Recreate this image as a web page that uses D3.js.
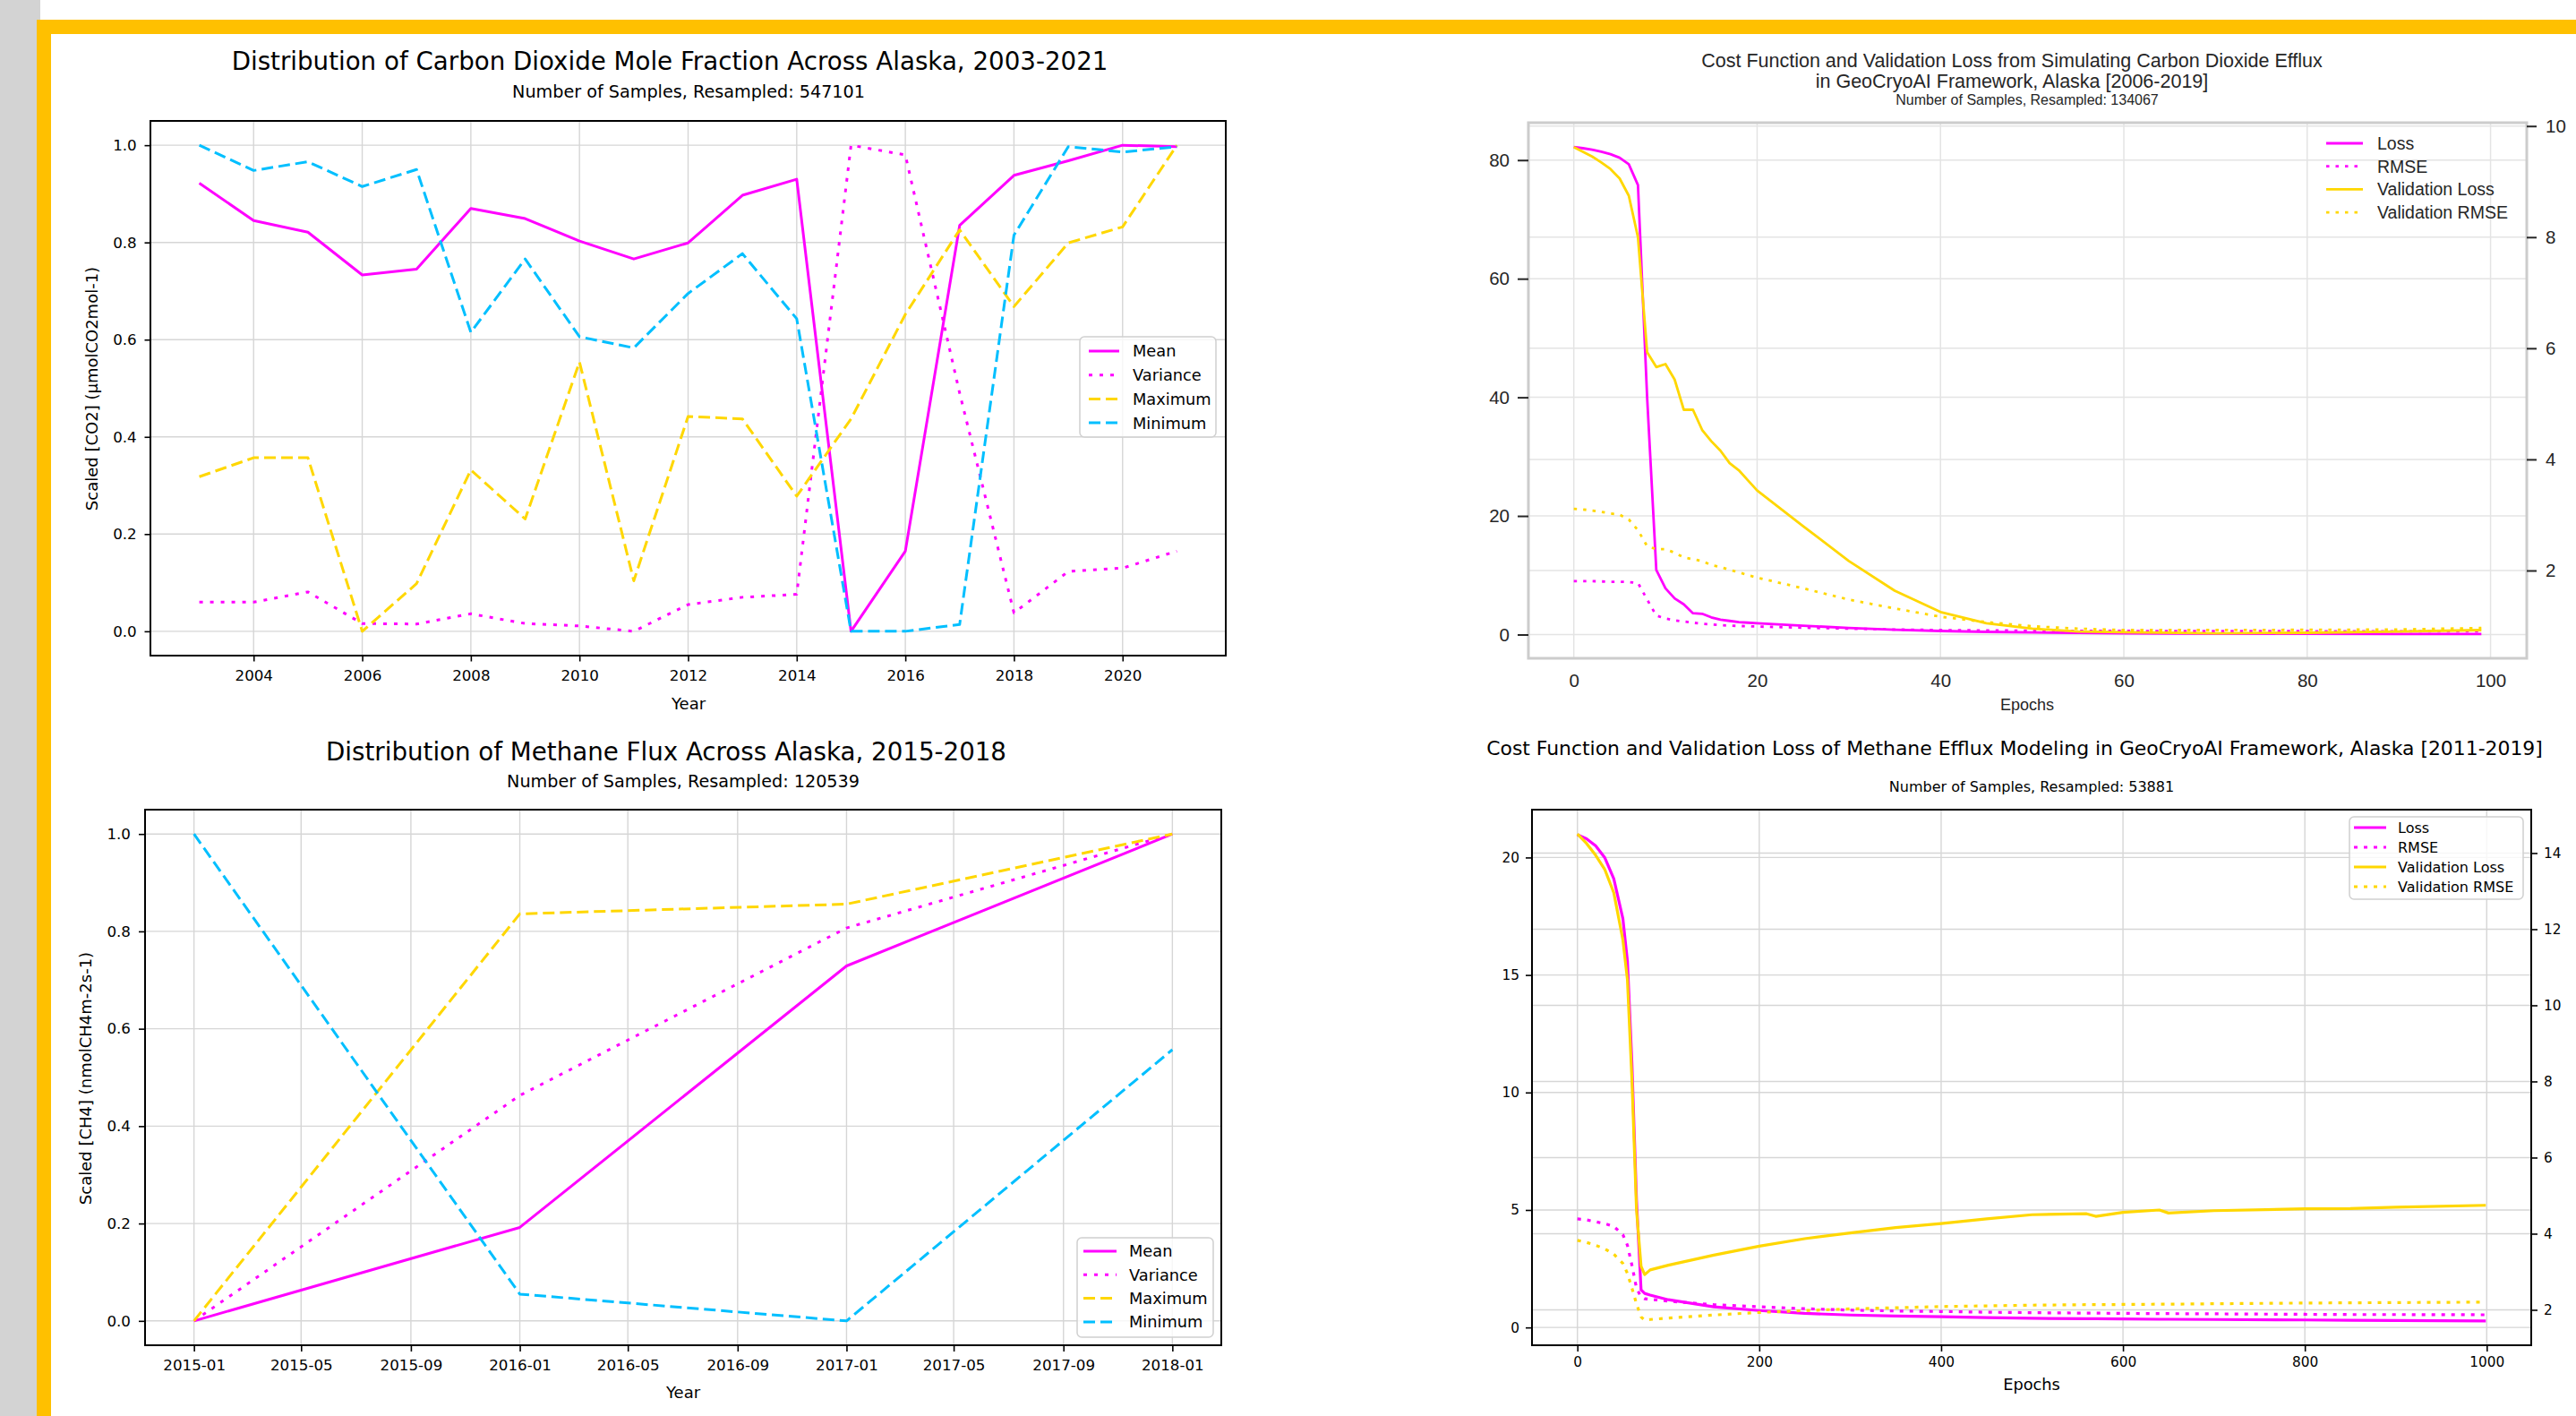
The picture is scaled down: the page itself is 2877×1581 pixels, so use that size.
<!DOCTYPE html>
<html>
<head>
<meta charset="utf-8">
<title>GeoCryoAI CO2 / CH4 summary</title>
<script src="https://cdn.jsdelivr.net/npm/d3@7/dist/d3.min.js"></script>
<style>
  body { margin: 0; background: #fff; }
  svg { display: block; }
</style>
</head>
<body>
<svg id="figure" width="2877" height="1581"></svg>
<script>
/**
 * DATA
 **/
// CO2 mole fraction distribution, scaled 0..1
const co2Years    = [2003, 2004, 2005, 2006, 2007, 2008, 2009, 2010, 2011, 2012, 2013, 2014, 2015, 2016, 2017, 2018, 2019, 2020, 2021];
const co2Mean     = [0.922, 0.845, 0.821, 0.733, 0.745, 0.870, 0.849, 0.803, 0.766, 0.799, 0.897, 0.930, 0.000, 0.165, 0.835, 0.938, 0.968, 1.000, 0.997];
const co2Variance = [0.060, 0.060, 0.081, 0.016, 0.015, 0.036, 0.016, 0.011, 0.000, 0.055, 0.070, 0.076, 1.000, 0.980, 0.490, 0.038, 0.123, 0.130, 0.165];
const co2Maximum  = [0.318, 0.357, 0.357, 0.000, 0.098, 0.332, 0.231, 0.554, 0.104, 0.442, 0.437, 0.278, 0.437, 0.652, 0.826, 0.668, 0.799, 0.832, 1.000];
const co2Minimum  = [1.000, 0.948, 0.966, 0.915, 0.950, 0.615, 0.766, 0.606, 0.583, 0.695, 0.777, 0.643, 0.000, 0.000, 0.014, 0.815, 0.997, 0.986, 0.997];

// CH4 flux distribution, scaled 0..1
const ch4Months   = ["2015-01", "2016-01", "2017-01", "2018-01"];
const ch4Mean     = [0.000, 0.192, 0.729, 1.000];
const ch4Variance = [0.000, 0.463, 0.807, 1.000];
const ch4Maximum  = [0.000, 0.836, 0.856, 1.000];
const ch4Minimum  = [1.000, 0.055, 0.000, 0.557];

// CO2 training history
const co2Epochs  = [0, 1, 2, 3, 4, 5, 6, 7, 8, 9, 10, 11, 12, 13, 14, 15, 16, 17, 18, 19, 20, 25, 30, 35, 40, 45, 50, 55, 60, 70, 80, 90, 99];
const co2Loss    = [82.2, 82.0, 81.75, 81.4, 81.0, 80.4, 79.3, 75.8, 40.0, 10.9, 7.8, 6.1, 5.1, 3.6, 3.5, 2.9, 2.5, 2.3, 2.1, 2.0, 1.9, 1.5, 1.1, 0.8, 0.6, 0.45, 0.35, 0.28, 0.2, 0.15, 0.12, 0.1, 0.1];
const co2Rmse    = [9.0, 9.0, 9.0, 8.95, 8.9, 8.9, 8.85, 8.7, 5.9, 3.2, 2.7, 2.4, 2.2, 2.0, 1.8, 1.7, 1.6, 1.5, 1.45, 1.4, 1.35, 1.15, 1.0, 0.85, 0.75, 0.7, 0.65, 0.62, 0.6, 0.58, 0.56, 0.55, 0.55];
const co2ValLoss = [82.2, 81.4, 80.6, 79.6, 78.5, 76.9, 74.0, 67.0, 47.6, 45.1, 45.6, 43.0, 37.9, 37.9, 34.5, 32.6, 31.0, 28.9, 27.7, 26.0, 24.3, 18.3, 12.4, 7.4, 3.8, 1.9, 1.0, 0.5, 0.4, 0.2, 0.3, 0.5, 0.75];
const co2ValRmse = [21.2, 21.1, 20.9, 20.7, 20.4, 20.2, 19.4, 17.6, 14.9, 14.4, 14.4, 13.8, 13.0, 12.7, 12.4, 11.7, 11.4, 10.9, 10.5, 10.0, 9.6, 7.8, 5.9, 4.4, 3.0, 2.1, 1.4, 1.0, 0.75, 0.75, 0.8, 0.85, 1.1];

// CH4 training history
const ch4Epochs  = [0, 10, 20, 30, 40, 50, 55, 60, 65, 70, 74, 80, 100, 150, 200, 250, 300, 350, 400, 450, 500, 560, 570, 600, 640, 650, 700, 800, 850, 900, 999];
const ch4Loss    = [20.97, 20.8, 20.5, 20.0, 19.1, 17.4, 15.6, 11.2, 5.4, 1.6, 1.45, 1.38, 1.18, 0.88, 0.72, 0.6, 0.53, 0.49, 0.46, 0.42, 0.39, 0.37, 0.37, 0.36, 0.35, 0.35, 0.34, 0.32, 0.31, 0.30, 0.28];
const ch4Rmse    = [4.62, 4.58, 4.5, 4.42, 4.3, 3.95, 3.5, 2.64, 1.67, 1.3, 1.22, 1.2, 1.12, 0.97, 0.88, 0.8, 0.74, 0.7, 0.68, 0.65, 0.63, 0.61, 0.61, 0.6, 0.59, 0.59, 0.58, 0.56, 0.55, 0.55, 0.54];
const ch4ValLoss = [21.0, 20.6, 20.1, 19.5, 18.5, 16.5, 14.8, 10.5, 5.0, 2.6, 2.25, 2.45, 2.65, 3.08, 3.46, 3.78, 4.02, 4.25, 4.42, 4.62, 4.8, 4.84, 4.73, 4.9, 5.0, 4.87, 4.97, 5.05, 5.06, 5.12, 5.2];
const ch4ValRmse = [3.71, 3.62, 3.5, 3.35, 3.12, 2.73, 2.3, 1.67, 1.0, 0.45, 0.31, 0.34, 0.4, 0.53, 0.64, 0.72, 0.79, 0.84, 0.89, 0.92, 0.95, 0.97, 0.97, 0.98, 0.99, 0.99, 1.01, 1.04, 1.05, 1.06, 1.08];

// tick labels
const co2YearTicks   = [2004, 2006, 2008, 2010, 2012, 2014, 2016, 2018, 2020];
const scaledTicks    = [0, 0.2, 0.4, 0.6, 0.8, 1.0];
const co2EpochTicks  = [0, 20, 40, 60, 80, 100];
const co2LossTicks   = [0, 20, 40, 60, 80];
const co2TwinTicks   = [2, 4, 6, 8, 10];
const co2TwinRange   = [0.42, 10.06];
const ch4EpochTicks  = [0, 200, 400, 600, 800, 1000];
const ch4LossTicks   = [0, 5, 10, 15, 20];
const ch4TwinTicks   = [2, 4, 6, 8, 10, 12, 14];
const ch4TwinRange   = [1.07, 15.14];

/**
 * STYLE CONSTANTS
 **/
const MAGENTA = "#ff00ff", GOLD = "#ffd700", SKY = "#00bfff";
const MPL = "'DejaVu Sans', sans-serif",
      SNS = "'Liberation Sans', Arial, sans-serif";

const svg = d3.select("#figure");

// page chrome: grey strip and the yellow frame
svg.append("rect").attr("width", 45).attr("height", 1581).attr("fill", "#d3d3d3");
svg.append("rect").attr("x", 41).attr("y", 22).attr("width", 2836).attr("height", 16).attr("fill", "#ffc000");
svg.append("rect").attr("x", 41).attr("y", 22).attr("width", 16).attr("height", 1559).attr("fill", "#ffc000");

// matplotlib-like 5% margins around the data
const padded = ([lo, hi], f = 0.05) => [lo - (hi - lo) * f, hi + (hi - lo) * f];

function drawPanel(p) {
    const g = svg.append("g");
    const x = p.x.range([p.left, p.right]);
    const y = p.y.range([p.bottom, p.top]);
    const y2 = p.y2 ? p.y2.range([p.bottom, p.top]) : null;

    // grid
    const grid = g.append("g");
    const gridStyle = sel => sel.attr("stroke", p.gridColor).attr("stroke-width", p.gridWidth);
    grid.selectAll(".gx").data(p.xTicks).join("line").attr("class", "gx")
        .attr("x1", d => x(d)).attr("x2", d => x(d))
        .attr("y1", p.top).attr("y2", p.bottom).call(gridStyle);
    grid.selectAll(".gy").data(p.yTicks).join("line").attr("class", "gy")
        .attr("x1", p.left).attr("x2", p.right)
        .attr("y1", d => y(d)).attr("y2", d => y(d)).call(gridStyle);
    if (y2) {
        grid.selectAll(".gy2").data(p.y2Ticks).join("line").attr("class", "gy2")
            .attr("x1", p.left).attr("x2", p.right)
            .attr("y1", d => y2(d)).attr("y2", d => y2(d)).call(gridStyle);
    }

    // series
    p.series.forEach(s => {
        const line = d3.line().x((d, i) => x(p.xs[i])).y(d => y(d));
        g.append("path")
            .datum(s.values)
            .attr("d", line)
            .attr("fill", "none")
            .attr("stroke", s.color)
            .attr("stroke-width", s.width)
            .attr("stroke-dasharray", s.dash || null)
            .attr("stroke-linejoin", "round");
    });

    // frame
    g.append("rect")
        .attr("x", p.left).attr("y", p.top)
        .attr("width", p.right - p.left).attr("height", p.bottom - p.top)
        .attr("fill", "none").attr("stroke", p.frameColor).attr("stroke-width", p.frameWidth);

    // axes
    const styleAxis = a => {
        a.select(".domain").remove();
        a.selectAll(".tick line").attr("stroke", p.tickColor).attr("stroke-width", p.tickWidth);
        a.selectAll(".tick text").attr("fill", p.textColor)
            .style("font-family", p.font).style("font-size", p.tickFont + "px");
    };
    g.append("g").attr("transform", `translate(0,${p.bottom})`).call(p.xAxis(x)).call(styleAxis);
    g.append("g").attr("transform", `translate(${p.left},0)`).call(p.yAxis(y)).call(styleAxis);
    if (y2) g.append("g").attr("transform", `translate(${p.right},0)`).call(p.y2Axis(y2)).call(styleAxis);

    // titles and axis labels
    p.texts.forEach(t => {
        g.append("text")
            .attr("transform", `translate(${t.x},${t.y})` + (t.rotate ? " rotate(-90)" : ""))
            .attr("text-anchor", "middle")
            .attr("dy", "0.36em")
            .attr("fill", p.textColor)
            .style("font-family", p.font)
            .style("font-size", t.size + "px")
            .text(t.text);
    });

    // legend
    const L = p.legend;
    const lg = g.append("g");
    if (L.box) {
        lg.append("rect")
            .attr("x", L.box[0]).attr("y", L.box[1])
            .attr("width", L.box[2] - L.box[0]).attr("height", L.box[3] - L.box[1])
            .attr("rx", 5)
            .attr("fill", "white").attr("fill-opacity", 0.8)
            .attr("stroke", "#d0d0d0").attr("stroke-width", 1.5);
    }
    p.series.forEach((s, i) => {
        const yy = L.firstY + i * L.step;
        lg.append("line")
            .attr("x1", L.h0).attr("x2", L.h1).attr("y1", yy).attr("y2", yy)
            .attr("stroke", s.color).attr("stroke-width", s.width)
            .attr("stroke-dasharray", s.dash || null);
        lg.append("text")
            .attr("x", L.textX).attr("y", yy).attr("dy", "0.36em")
            .attr("fill", p.textColor)
            .style("font-family", p.font).style("font-size", L.size + "px")
            .text(s.label);
    });
}

const mplStyle = {
    font: MPL, textColor: "#000", tickColor: "#000", tickWidth: 1.6,
    gridColor: "#d6d6d6", gridWidth: 1.4, frameColor: "#000", frameWidth: 2
};

/**
 * PANEL 1 : CO2 distribution
 **/
drawPanel({
    ...mplStyle,
    left: 168, right: 1369, top: 135, bottom: 732,
    x: d3.scaleLinear().domain(padded(d3.extent(co2Years))),
    y: d3.scaleLinear().domain(padded([0, 1])),
    xs: co2Years,
    xTicks: co2YearTicks, yTicks: scaledTicks,
    tickFont: 16.7,
    xAxis: x => d3.axisBottom(x).tickValues(co2YearTicks).tickFormat(d3.format("d")).tickSize(6.5).tickPadding(10),
    yAxis: y => d3.axisLeft(y).tickValues(scaledTicks).tickFormat(d3.format(".1f")).tickSize(6.5).tickPadding(8.8),
    series: [
        { label: "Mean", values: co2Mean, color: MAGENTA, width: 3 },
        { label: "Variance", values: co2Variance, color: MAGENTA, width: 3, dash: "4,8" },
        { label: "Maximum", values: co2Maximum, color: GOLD, width: 3, dash: "13,6" },
        { label: "Minimum", values: co2Minimum, color: SKY, width: 3, dash: "13,6" }
    ],
    texts: [
        { text: "Distribution of Carbon Dioxide Mole Fraction Across Alaska, 2003-2021", x: 748, y: 68, size: 27.7 },
        { text: "Number of Samples, Resampled: 547101", x: 769, y: 102, size: 19.2 },
        { text: "Scaled [CO2] (μmolCO2mol-1)", x: 103, y: 434, size: 18, rotate: true },
        { text: "Year", x: 769, y: 786, size: 18 }
    ],
    legend: { box: [1206, 376, 1358, 488], firstY: 392, step: 26.7, h0: 1216, h1: 1250, textX: 1265, size: 17.8 }
});

/**
 * PANEL 3 : CH4 distribution
 **/
const parseMonth = d3.utcParse("%Y-%m");
const ch4Dates = ch4Months.map(parseMonth);
const ch4Span = d3.extent(ch4Dates).map(d => +d);
drawPanel({
    ...mplStyle,
    left: 162, right: 1364, top: 904, bottom: 1502,
    x: d3.scaleUtc().domain(padded(ch4Span).map(t => new Date(t))),
    y: d3.scaleLinear().domain(padded([0, 1])),
    xs: ch4Dates,
    xTicks: d3.utcMonth.every(4).range(ch4Dates[0], d3.utcDay.offset(ch4Dates[3], 1)),
    yTicks: scaledTicks,
    tickFont: 16.7,
    xAxis: x => d3.axisBottom(x)
        .tickValues(d3.utcMonth.every(4).range(ch4Dates[0], d3.utcDay.offset(ch4Dates[3], 1)))
        .tickFormat(d3.utcFormat("%Y-%m")).tickSize(7).tickPadding(9),
    yAxis: y => d3.axisLeft(y).tickValues(scaledTicks).tickFormat(d3.format(".1f")).tickSize(7).tickPadding(9),
    series: [
        { label: "Mean", values: ch4Mean, color: MAGENTA, width: 3 },
        { label: "Variance", values: ch4Variance, color: MAGENTA, width: 3, dash: "4,8" },
        { label: "Maximum", values: ch4Maximum, color: GOLD, width: 3, dash: "13,6" },
        { label: "Minimum", values: ch4Minimum, color: SKY, width: 3, dash: "13,6" }
    ],
    texts: [
        { text: "Distribution of Methane Flux Across Alaska, 2015-2018", x: 744, y: 839, size: 27.7 },
        { text: "Number of Samples, Resampled: 120539", x: 763, y: 872, size: 19.2 },
        { text: "Scaled [CH4] (nmolCH4m-2s-1)", x: 95.5, y: 1204, size: 18, rotate: true },
        { text: "Year", x: 763, y: 1555, size: 18 }
    ],
    legend: { box: [1203, 1382, 1355, 1493], firstY: 1397, step: 26.3, h0: 1210, h1: 1247, textX: 1261, size: 17.8 }
});

/**
 * PANEL 2 : CO2 training history (seaborn whitegrid look)
 **/
drawPanel({
    font: SNS, textColor: "#262626", tickColor: "#262626", tickWidth: 2,
    gridColor: "#e4e4e4", gridWidth: 1.5, frameColor: "#cccccc", frameWidth: 3,
    left: 1707, right: 2822, top: 137, bottom: 735,
    x: d3.scaleLinear().domain(padded(d3.extent(co2Epochs))),
    y: d3.scaleLinear().domain(padded(d3.extent([...co2Loss, ...co2Rmse, ...co2ValLoss, ...co2ValRmse]))),
    y2: d3.scaleLinear().domain(co2TwinRange),
    xs: co2Epochs,
    xTicks: co2EpochTicks, yTicks: co2LossTicks, y2Ticks: co2TwinTicks,
    tickFont: 20.5,
    xAxis: x => d3.axisBottom(x).tickValues(co2EpochTicks).tickFormat(d3.format("d")).tickSize(0).tickPadding(17.7),
    yAxis: y => d3.axisLeft(y).tickValues(co2LossTicks).tickFormat(d3.format("d")).tickSize(12).tickPadding(9),
    y2Axis: y => d3.axisRight(y).tickValues(co2TwinTicks).tickFormat(d3.format("d")).tickSize(11).tickPadding(10),
    series: [
        { label: "Loss", values: co2Loss, color: MAGENTA, width: 2.8 },
        { label: "RMSE", values: co2Rmse, color: MAGENTA, width: 2.8, dash: "3.5,7" },
        { label: "Validation Loss", values: co2ValLoss, color: GOLD, width: 2.8 },
        { label: "Validation RMSE", values: co2ValRmse, color: GOLD, width: 2.8, dash: "3.5,7" }
    ],
    texts: [
        { text: "Cost Function and Validation Loss from Simulating Carbon Dioxide Efflux", x: 2247, y: 67, size: 21.5 },
        { text: "in GeoCryoAI Framework, Alaska [2006-2019]", x: 2247, y: 90, size: 21.5 },
        { text: "Number of Samples, Resampled: 134067", x: 2264, y: 111, size: 16 },
        { text: "Epochs", x: 2264, y: 787, size: 18 }
    ],
    legend: { box: null, firstY: 160, step: 25.7, h0: 2598, h1: 2639, textX: 2655, size: 19.5 }
});

/**
 * PANEL 4 : CH4 training history
 **/
drawPanel({
    ...mplStyle,
    left: 1711, right: 2827, top: 904, bottom: 1502,
    x: d3.scaleLinear().domain(padded(d3.extent(ch4Epochs))),
    y: d3.scaleLinear().domain(padded(d3.extent([...ch4Loss, ...ch4Rmse, ...ch4ValLoss, ...ch4ValRmse]))),
    y2: d3.scaleLinear().domain(ch4TwinRange),
    xs: ch4Epochs,
    xTicks: ch4EpochTicks, yTicks: ch4LossTicks, y2Ticks: ch4TwinTicks,
    tickFont: 15.3,
    xAxis: x => d3.axisBottom(x).tickValues(ch4EpochTicks).tickFormat(d3.format("d")).tickSize(7).tickPadding(6.5),
    yAxis: y => d3.axisLeft(y).tickValues(ch4LossTicks).tickFormat(d3.format("d")).tickSize(7).tickPadding(7),
    y2Axis: y => d3.axisRight(y).tickValues(ch4TwinTicks).tickFormat(d3.format("d")).tickSize(7).tickPadding(7),
    series: [
        { label: "Loss", values: ch4Loss, color: MAGENTA, width: 3.2 },
        { label: "RMSE", values: ch4Rmse, color: MAGENTA, width: 3.2, dash: "4,7" },
        { label: "Validation Loss", values: ch4ValLoss, color: GOLD, width: 3.2 },
        { label: "Validation RMSE", values: ch4ValRmse, color: GOLD, width: 3.2, dash: "4,7" }
    ],
    texts: [
        { text: "Cost Function and Validation Loss of Methane Efflux Modeling in GeoCryoAI Framework, Alaska [2011-2019]", x: 2250, y: 835, size: 21.9 },
        { text: "Number of Samples, Resampled: 53881", x: 2269, y: 878, size: 16 },
        { text: "Epochs", x: 2269, y: 1546, size: 17.8 }
    ],
    legend: { box: [2624, 912, 2818, 1004], firstY: 924, step: 22, h0: 2629, h1: 2665, textX: 2678, size: 16 }
});
</script>
</body>
</html>
